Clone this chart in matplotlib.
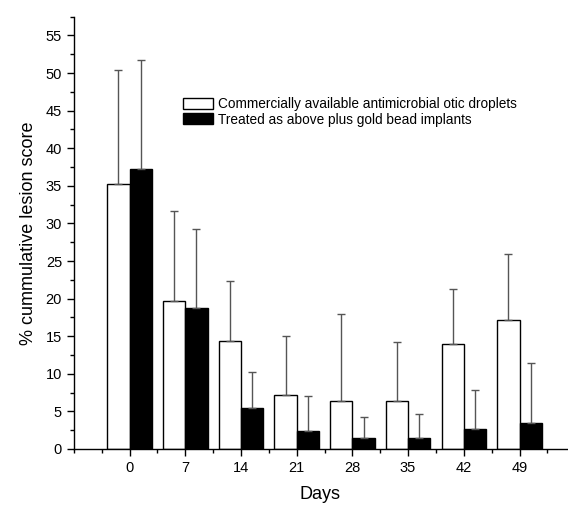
import numpy as np
import matplotlib.pyplot as plt
from matplotlib.ticker import MultipleLocator

plt.rcParams['font.family'] = ['Liberation Sans', 'DejaVu Sans']

days = ['0', '7', '14', '21', '28', '35', '42', '49']
otic = [35.2, 19.7, 14.4, 7.2, 6.4, 6.4, 13.9, 17.2]
otic_err = [15.2, 12.0, 8.0, 7.8, 11.5, 7.8, 7.4, 8.7]
gold = [37.2, 18.7, 5.5, 2.4, 1.5, 1.5, 2.7, 3.5]
gold_err = [14.5, 10.5, 4.8, 4.7, 2.8, 3.2, 5.2, 7.9]

fig = plt.figure(figsize=(5.68, 5.07), dpi=100)
ax = fig.add_axes([0.130, 0.1144, 0.868, 0.8527])

x = np.arange(len(days))
w = 0.4
ax.bar(x - w/2, otic, w, color='white', edgecolor='black', linewidth=1.0,
       label='Commercially available antimicrobial otic droplets')
ax.bar(x + w/2, gold, w, color='black', edgecolor='black', linewidth=1.0,
       label='Treated as above plus gold bead implants')
ax.errorbar(x - w/2, otic, yerr=[np.zeros(len(otic)), otic_err], fmt='none',
            ecolor='#555555', elinewidth=1.0, capsize=3, capthick=1.0)
ax.errorbar(x + w/2, gold, yerr=[np.zeros(len(gold)), gold_err], fmt='none',
            ecolor='#555555', elinewidth=1.0, capsize=3, capthick=1.0)

ax.set_xlim(-1, 7.85)
ax.set_ylim(0, 57.5)
ax.set_xticks(x)
ax.set_xticklabels(days)
ax.xaxis.set_minor_locator(MultipleLocator(0.5))
ax.yaxis.set_major_locator(MultipleLocator(5))
ax.yaxis.set_minor_locator(MultipleLocator(2.5))
ax.tick_params(which='major', length=5, width=1, labelsize=10.5)
ax.tick_params(which='minor', length=3, width=1)

for s in ['top', 'right']:
    ax.spines[s].set_visible(False)
for s in ['left', 'bottom']:
    ax.spines[s].set_linewidth(1.0)

ax.set_xlabel('Days', fontsize=13, labelpad=8)
ax.set_ylabel('% cummulative lesion score', fontsize=13, labelpad=6)

ax.legend(loc='upper left', bbox_to_anchor=(0.207, 0.83), frameon=False,
          fontsize=9.8, handlelength=2.2, handleheight=0.85, handletextpad=0.4,
          labelspacing=0.12, borderpad=0)

fig.savefig('out.png', dpi=100)
